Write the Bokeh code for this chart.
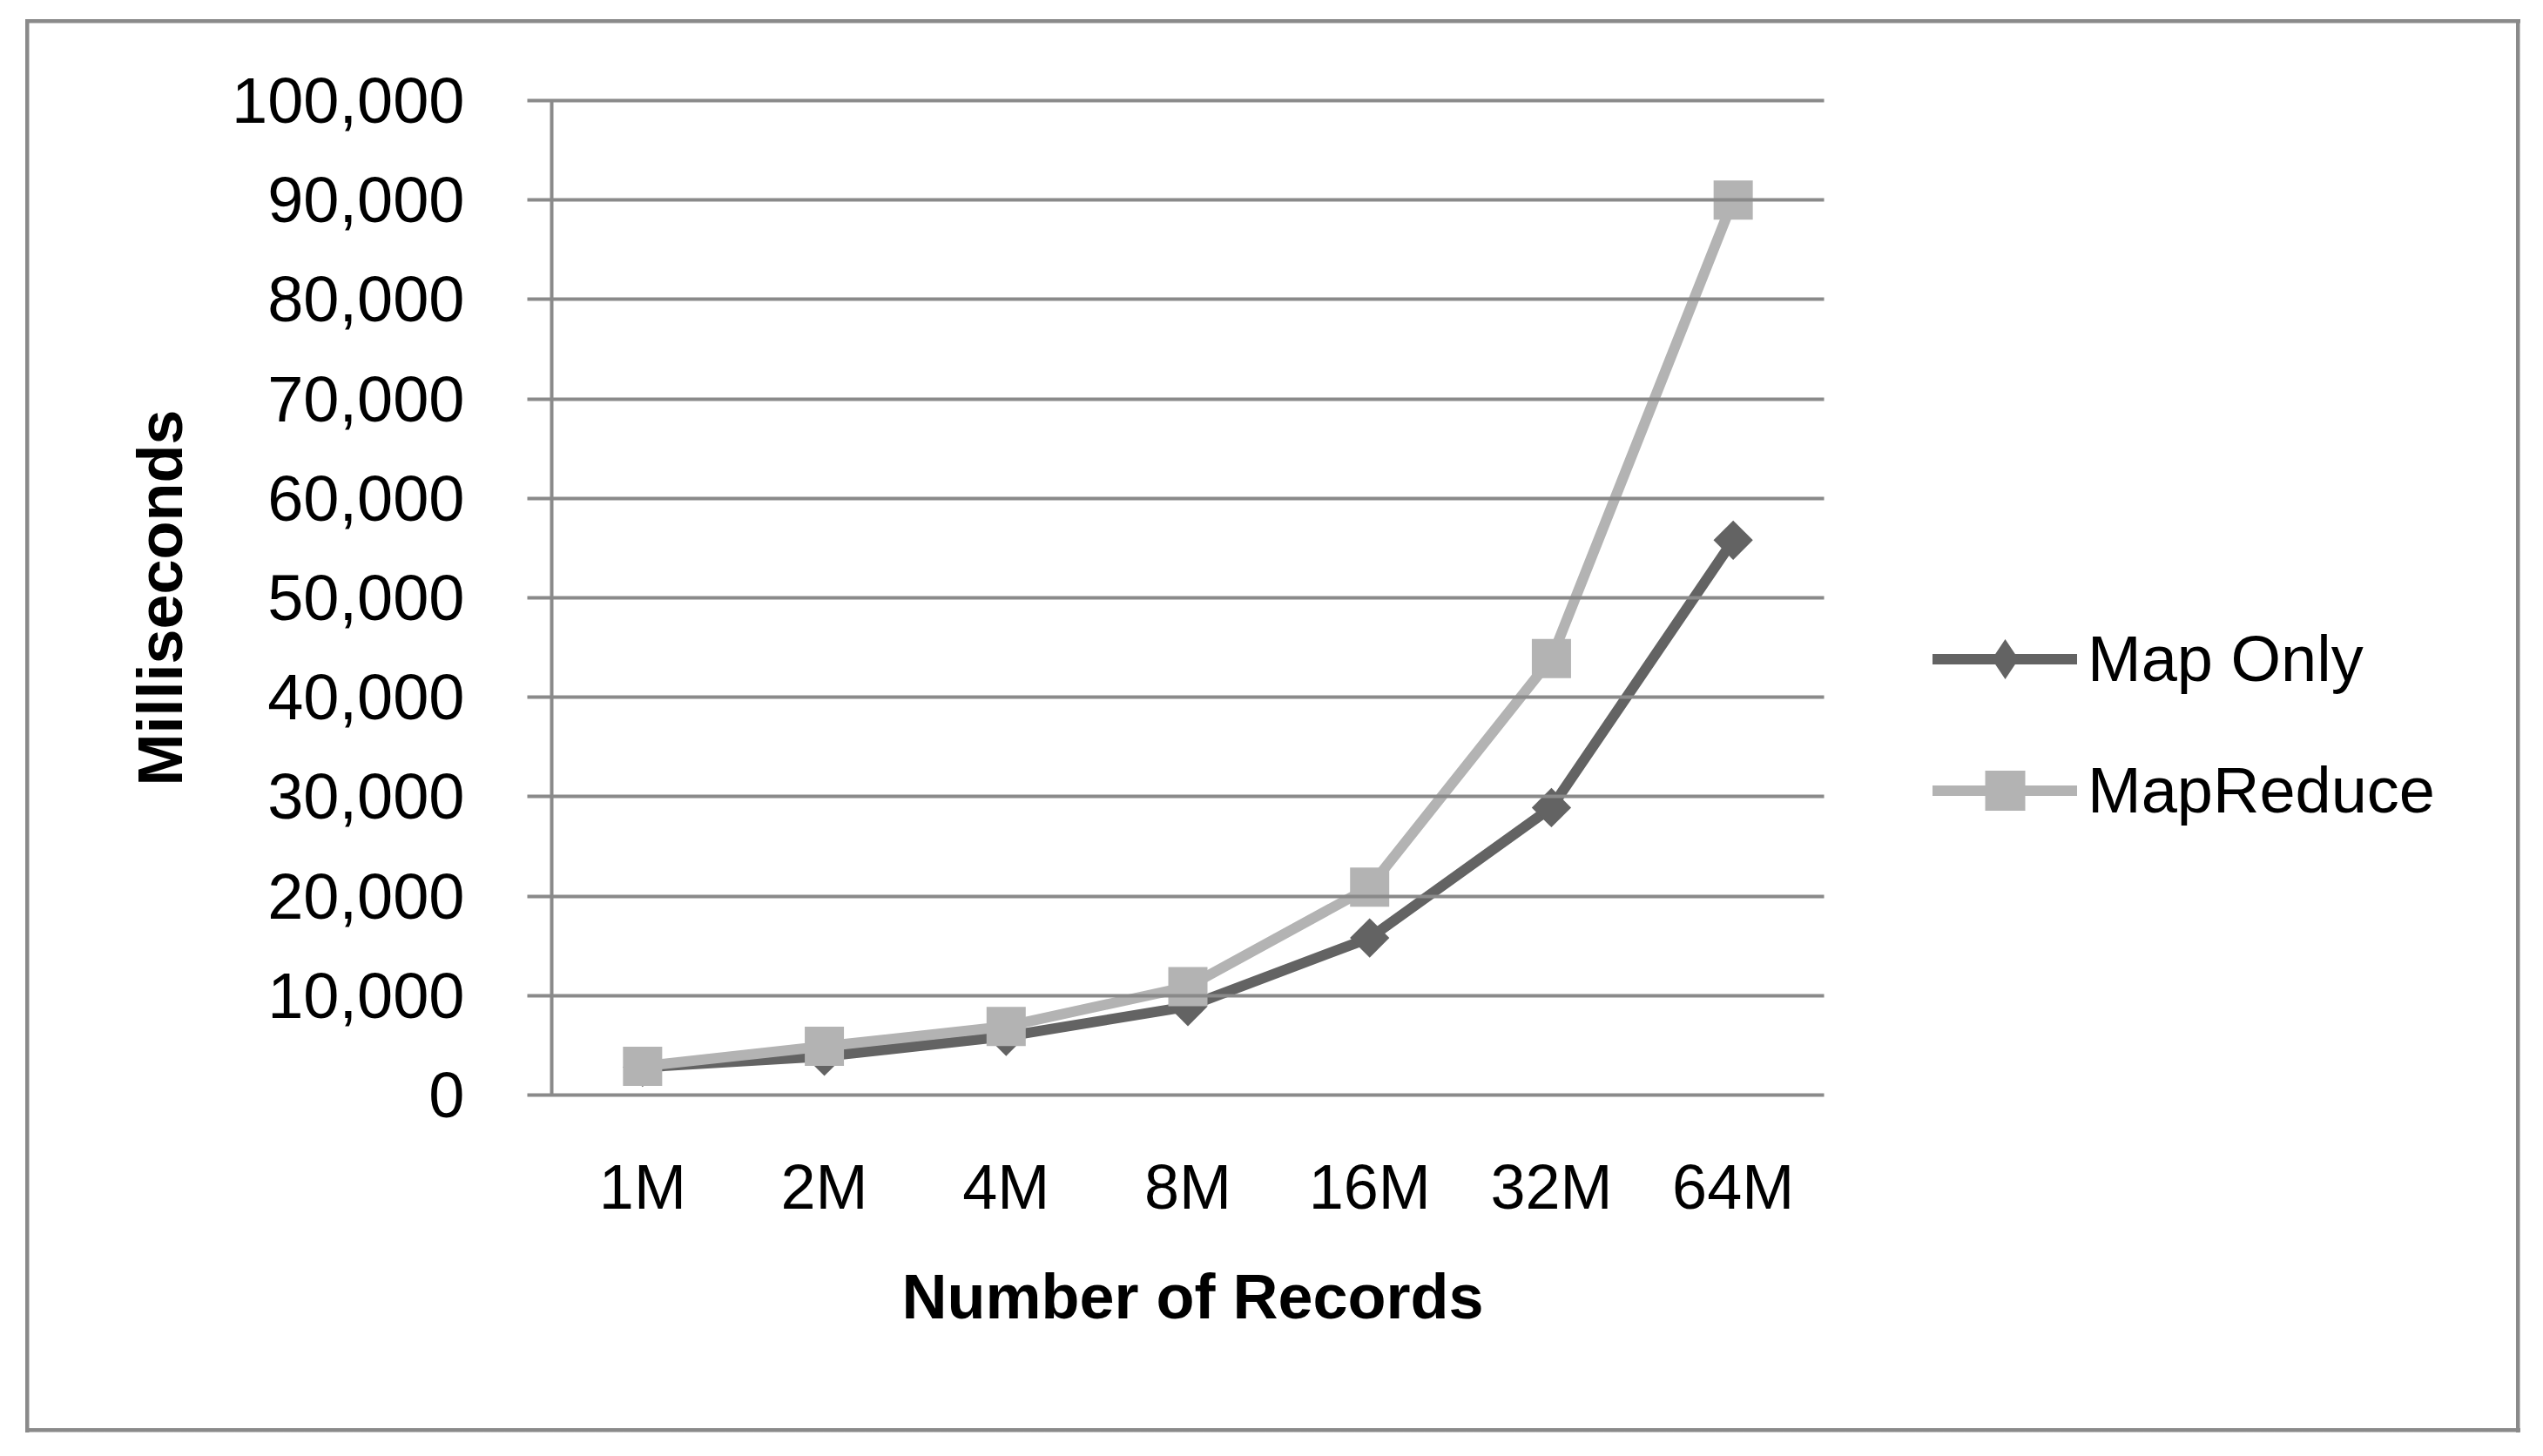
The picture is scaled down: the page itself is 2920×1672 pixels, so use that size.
import math
from bokeh.plotting import figure
from bokeh.models import (Range1d, FixedTicker, NumeralTickFormatter,
                          Legend, LegendItem, ColumnDataSource, Title)
from bokeh.embed import file_html
from bokeh.resources import INLINE

# ---- data ----
categories = ["1M", "2M", "4M", "8M", "16M", "32M", "64M"]
map_only = [2800, 3900, 5900, 8900, 15800, 28900, 55800]
map_reduce = [2900, 4900, 6900, 10900, 20900, 43900, 90000]
y_ticks = [0, 10000, 20000, 30000, 40000, 50000, 60000, 70000, 80000, 90000, 100000]
series_names = ["Map Only", "MapReduce"]
x_title = "Number of Records"
y_title = "Milliseconds"

DARK = "#636363"
LIGHT = "#b3b3b3"
GRID = "#8a8a8a"
FONT = "Liberation Sans"

# category positions 1..n on a linear scale
xs = [i + 1 for i in range(len(categories))]
src = ColumnDataSource(data=dict(x=xs, a=map_only, b=map_reduce))

W, H = 2904, 1656
LEFT, TOP, BOTTOM = 633, 115, 1257
PLOT_W = 1461                      # width of the category area
FRAME_RIGHT = 2860                 # frame is extended to host the legend
cat_px = PLOT_W / len(categories)

p = figure(width=W, height=H,
           x_range=Range1d(0.5, 0.5 + (FRAME_RIGHT - LEFT) / cat_px),
           y_range=Range1d(0, 100000),
           output_backend="svg", toolbar_location=None,
           min_border_left=LEFT, min_border_right=W - FRAME_RIGHT,
           min_border_top=TOP, min_border_bottom=H - BOTTOM)
p.background_fill_color = None
p.border_fill_color = None
p.outline_line_color = None
p.xgrid.grid_line_color = None
p.ygrid.grid_line_color = None

# outer chart border drawn as CSS background of the plot element
bw = 4.5
bl, bt, br, bb = 28.75, 21.75, 2889.25, 1640.25
g = "linear-gradient(#8a8a8a,#8a8a8a)"
p.styles = {
    "background-color": "white",
    "background-image": ", ".join([g] * 4),
    "background-position": f"{bl}px {bt}px, {br}px {bt}px, {bl}px {bt}px, {bl}px {bb}px",
    "background-size": f"{bw}px {bb - bt + bw}px, {bw}px {bb - bt + bw}px, {br - bl + bw}px {bw}px, {br - bl + bw}px {bw}px",
    "background-repeat": "no-repeat",
}

# y axis (major ticks drawn inward act as the horizontal gridlines)
p.yaxis.ticker = FixedTicker(ticks=y_ticks)
p.yaxis.formatter = NumeralTickFormatter(format="0,0")
p.yaxis.axis_line_color = GRID
p.yaxis.axis_line_width = 4
p.yaxis.major_tick_line_color = GRID
p.yaxis.major_tick_line_width = 4
p.yaxis.major_tick_out = 28
p.yaxis.major_tick_in = PLOT_W
p.yaxis.minor_tick_line_color = None
p.yaxis.major_label_text_font = FONT
p.yaxis.major_label_text_font_size = "74px"
p.yaxis.major_label_text_color = "black"
p.yaxis.major_label_standoff = 72
p.yaxis.axis_label = y_title
p.yaxis.axis_label_text_font = FONT
p.yaxis.axis_label_text_font_style = "bold"
p.yaxis.axis_label_text_font_size = "72px"
p.yaxis.axis_label_text_color = "black"
p.yaxis.axis_label_standoff = 39

# x axis with category labels
p.xaxis.ticker = FixedTicker(ticks=xs)
p.xaxis.major_label_overrides = {x: c for x, c in zip(xs, categories)}
p.xaxis.axis_line_color = None
p.xaxis.major_tick_line_color = None
p.xaxis.major_tick_out = 0
p.xaxis.major_tick_in = 0
p.xaxis.minor_tick_line_color = None
p.xaxis.major_label_text_font = FONT
p.xaxis.major_label_text_font_size = "72px"
p.xaxis.major_label_text_color = "black"
p.xaxis.major_label_standoff = 65

# x axis title, aligned under the category area
p.add_layout(Title(text=x_title, align="left", offset=402, standoff=82,
                   text_font=FONT, text_font_style="bold",
                   text_font_size="72px", text_color="black"), "below")

# series
l1 = p.line("x", "a", source=src, line_color=DARK, line_width=12, line_cap="round", line_join="round")
s1 = p.scatter("x", "a", source=src, marker="square", size=32, angle=math.pi / 4,
               fill_color=DARK, line_color=None)
l2 = p.line("x", "b", source=src, line_color=LIGHT, line_width=12, line_cap="round", line_join="round")
s2 = p.scatter("x", "b", source=src, marker="square", size=45,
               fill_color=LIGHT, line_color=None)
# legend-only proxy for the diamond symbol (not drawn in the plot: NaN value)
d1 = p.scatter(x=[xs[0]], y=[float("nan")], marker="diamond", size=46,
               fill_color=DARK, line_color=None)

legend = Legend(items=[LegendItem(label=series_names[0], renderers=[l1, d1]),
                       LegendItem(label=series_names[1], renderers=[l2, s2])],
                location=(2219 - LEFT, 292), orientation="vertical",
                glyph_width=166, glyph_height=115, label_height=115,
                spacing=36, label_standoff=12, padding=0, margin=0,
                border_line_color=None, background_fill_alpha=0,
                label_text_font=FONT, label_text_font_size="74px",
                label_text_color="black")
p.add_layout(legend)

open("out.html", "w").write(file_html(p, INLINE))
